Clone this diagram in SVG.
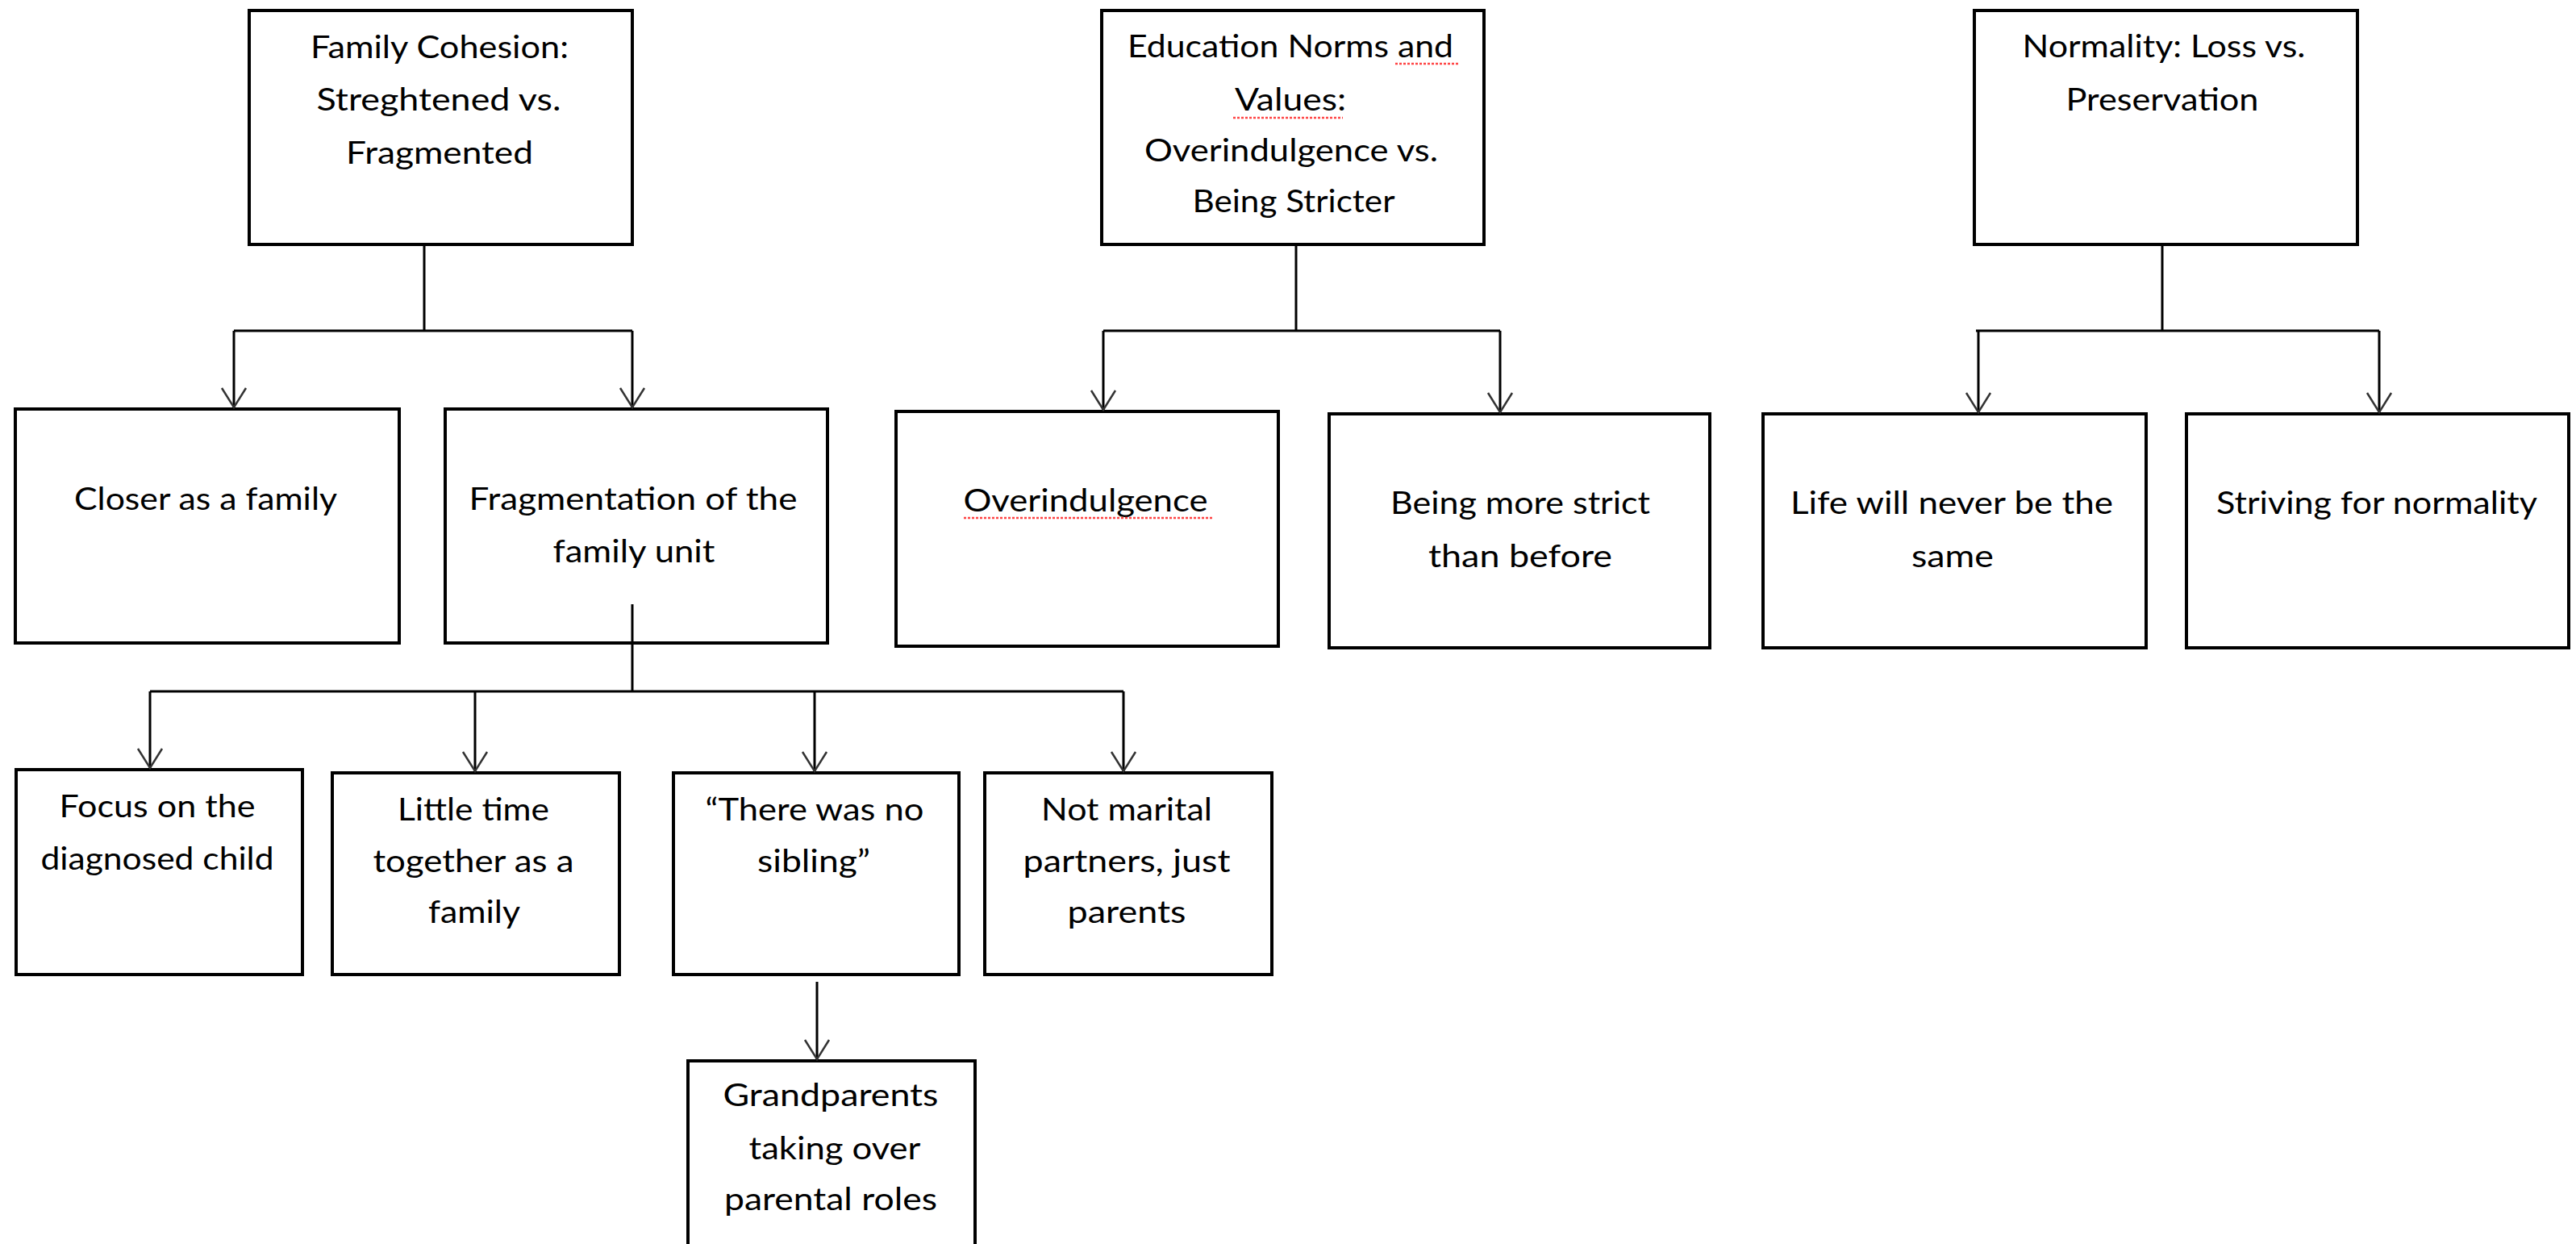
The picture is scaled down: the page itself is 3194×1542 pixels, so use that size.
<svg xmlns="http://www.w3.org/2000/svg" width="3194" height="1542" viewBox="0 0 3194 1542">
<style>
.box{fill:#fff;stroke:#000;stroke-width:4}
.conn{fill:none;stroke:#000;stroke-width:3}
.arr{fill:none;stroke:#000;stroke-width:3;marker-end:url(#arr)}
.lbl{font-family:Lato,"Open Sans","Liberation Sans",sans-serif;font-size:38px;fill:#000;text-anchor:middle}
.sq{fill:none;stroke:#f44;stroke-width:2.5;stroke-dasharray:3 2}
</style>
<defs>
<marker id="arr" markerUnits="userSpaceOnUse" viewBox="-28 -18 32 36" refX="0" refY="0" markerWidth="32" markerHeight="36" orient="auto" overflow="visible">
<path d="M-24,-15 L0,0 L-24,15" fill="none" stroke="#333" stroke-width="2.5"/>
</marker>
</defs>
<rect width="3194" height="1542" fill="#fff"/>
<g id="family-cohesion">
<rect class="box" x="309" y="13" width="475" height="290"/>
<text class="lbl" x="545" y="72" textLength="320" lengthAdjust="spacingAndGlyphs">Family Cohesion:</text>
<text class="lbl" x="544" y="137" textLength="303" lengthAdjust="spacingAndGlyphs">Streghtened vs.</text>
<text class="lbl" x="545" y="203" textLength="232" lengthAdjust="spacingAndGlyphs">Fragmented</text>
</g>
<g id="education-norms">
<rect class="box" x="1366" y="13" width="474" height="290"/>
<text class="lbl" x="1600" y="71" textLength="404" lengthAdjust="spacingAndGlyphs">Education Norms and</text>
<path class="sq" d="M1730,79 H1809"/>
<text class="lbl" x="1600" y="137" textLength="138" lengthAdjust="spacingAndGlyphs">Values:</text>
<path class="sq" d="M1529,146 H1665"/>
<text class="lbl" x="1601" y="200" textLength="364" lengthAdjust="spacingAndGlyphs">Overindulgence vs.</text>
<text class="lbl" x="1604" y="263" textLength="251" lengthAdjust="spacingAndGlyphs">Being Stricter</text>
</g>
<g id="normality">
<rect class="box" x="2448" y="13" width="475" height="290"/>
<text class="lbl" x="2683" y="71" textLength="351" lengthAdjust="spacingAndGlyphs">Normality: Loss vs.</text>
<text class="lbl" x="2681" y="137" textLength="239" lengthAdjust="spacingAndGlyphs">Preservation</text>
</g>
<g id="closer">
<rect class="box" x="19" y="507" width="476" height="290"/>
<text class="lbl" x="255" y="632" textLength="326" lengthAdjust="spacingAndGlyphs">Closer as a family</text>
</g>
<g id="fragmentation">
<rect class="box" x="552" y="507" width="474" height="290"/>
<text class="lbl" x="785" y="632" textLength="407" lengthAdjust="spacingAndGlyphs">Fragmentation of the</text>
<text class="lbl" x="786" y="697" textLength="201" lengthAdjust="spacingAndGlyphs">family unit</text>
</g>
<g id="overindulgence">
<rect class="box" x="1111" y="510" width="474" height="291"/>
<text class="lbl" x="1346" y="634" textLength="303" lengthAdjust="spacingAndGlyphs">Overindulgence</text>
<path class="sq" d="M1195,642 H1504"/>
</g>
<g id="more-strict">
<rect class="box" x="1648" y="513" width="472" height="290"/>
<text class="lbl" x="1885" y="637" textLength="322" lengthAdjust="spacingAndGlyphs">Being more strict</text>
<text class="lbl" x="1885" y="703" textLength="228" lengthAdjust="spacingAndGlyphs">than before</text>
</g>
<g id="never-same">
<rect class="box" x="2186" y="513" width="475" height="290"/>
<text class="lbl" x="2420" y="637" textLength="400" lengthAdjust="spacingAndGlyphs">Life will never be the</text>
<text class="lbl" x="2421" y="703" textLength="102" lengthAdjust="spacingAndGlyphs">same</text>
</g>
<g id="striving">
<rect class="box" x="2711" y="513" width="474" height="290"/>
<text class="lbl" x="2947" y="637" textLength="398" lengthAdjust="spacingAndGlyphs">Striving for normality</text>
</g>
<g id="focus">
<rect class="box" x="20" y="954" width="355" height="254"/>
<text class="lbl" x="195" y="1013" textLength="243" lengthAdjust="spacingAndGlyphs">Focus on the</text>
<text class="lbl" x="195" y="1078" textLength="289" lengthAdjust="spacingAndGlyphs">diagnosed child</text>
</g>
<g id="little-time">
<rect class="box" x="412" y="958" width="356" height="250"/>
<text class="lbl" x="587" y="1017" textLength="188" lengthAdjust="spacingAndGlyphs">Little time</text>
<text class="lbl" x="587" y="1081" textLength="249" lengthAdjust="spacingAndGlyphs">together as a</text>
<text class="lbl" x="588" y="1144" textLength="114" lengthAdjust="spacingAndGlyphs">family</text>
</g>
<g id="no-sibling">
<rect class="box" x="835" y="958" width="354" height="250"/>
<text class="lbl" x="1010" y="1017" textLength="271" lengthAdjust="spacingAndGlyphs">“There was no</text>
<text class="lbl" x="1009" y="1081" textLength="140" lengthAdjust="spacingAndGlyphs">sibling”</text>
</g>
<g id="not-marital">
<rect class="box" x="1221" y="958" width="356" height="250"/>
<text class="lbl" x="1397" y="1017" textLength="212" lengthAdjust="spacingAndGlyphs">Not marital</text>
<text class="lbl" x="1397" y="1081" textLength="257" lengthAdjust="spacingAndGlyphs">partners, just</text>
<text class="lbl" x="1397" y="1144" textLength="147" lengthAdjust="spacingAndGlyphs">parents</text>
</g>
<g id="grandparents">
<rect class="box" x="853" y="1315" width="356" height="300"/>
<text class="lbl" x="1030" y="1371" textLength="267" lengthAdjust="spacingAndGlyphs">Grandparents</text>
<text class="lbl" x="1035" y="1437" textLength="213" lengthAdjust="spacingAndGlyphs">taking over</text>
<text class="lbl" x="1030" y="1500" textLength="264" lengthAdjust="spacingAndGlyphs">parental roles</text>
</g>
<g id="connectors">
<path class="conn" d="M526,305 V410 M290,410 H784"/>
<path class="arr" d="M290,410 V505"/>
<path class="arr" d="M784,410 V505"/>
<path class="conn" d="M1607,305 V410 M1368,410 H1860"/>
<path class="arr" d="M1368,410 V508"/>
<path class="arr" d="M1860,410 V511"/>
<path class="conn" d="M2681,305 V410 M2450,410 H2950"/>
<path class="arr" d="M2453,410 V511"/>
<path class="arr" d="M2950,410 V511"/>
<path class="conn" d="M784,749 V857 M186,857 H1393"/>
<path class="arr" d="M186,857 V952"/>
<path class="arr" d="M589,857 V956"/>
<path class="arr" d="M1010,857 V956"/>
<path class="arr" d="M1393,857 V956"/>
<path class="arr" d="M1013,1217 V1313"/>
</g>
</svg>
